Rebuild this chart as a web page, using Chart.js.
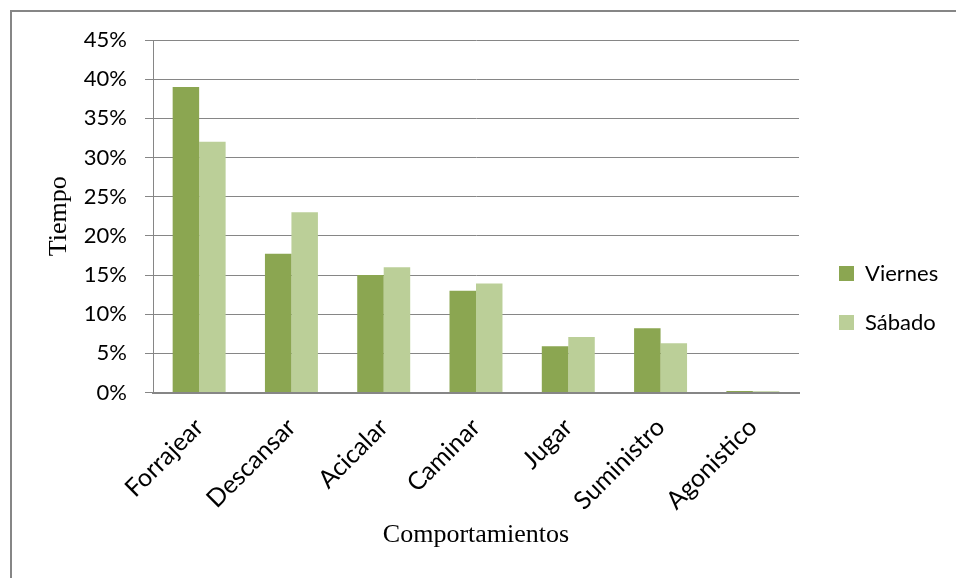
<!DOCTYPE html>
<html><head><meta charset="utf-8">
<script src="https://cdn.jsdelivr.net/npm/chart.js@4.4.1/dist/chart.umd.min.js"></script>
<style>
html,body{margin:0;padding:0;background:#fff;}
#wrap{position:relative;width:956px;height:578px;overflow:hidden;background:#fff;}
#frame{position:absolute;left:10px;top:10px;right:0;bottom:0;border-left:2px solid #868686;border-top:2px solid #868686;pointer-events:none;}
canvas{position:absolute;left:0;top:0;}
</style></head><body>
<div id="wrap"><canvas id="c" width="956" height="578"></canvas><div id="frame"></div></div>
<script>
const categories = ['Forrajear', 'Descansar', 'Acicalar', 'Caminar', 'Jugar', 'Suministro', 'Agonistico'];
const viernes = [39, 17.7, 15, 13, 5.9, 8.2, 0.2];
const sabado = [32, 23, 16, 13.9, 7.1, 6.3, 0.15];
const yTicks = [0, 5, 10, 15, 20, 25, 30, 35, 40, 45];
const seriesNames = ['Viernes', 'Sábado'];

const GRID = '#868686';
const TICKFONT = {family: 'Lato', size: 22};
const XFONT = {family: 'Lato', size: 25};

const legendPos = {
  id: 'legendPos',
  afterInit(chart) {
    const lg = chart.legend;
    const orig = lg.fit.bind(lg);
    lg.fit = function () { orig(); this.width = 157; };
  },
  afterLayout(chart) {
    const lg = chart.legend;
    lg.left = 812; lg.right = lg.left + 144;
    lg.top = 29; lg.bottom = 567;
  }
};

new Chart(document.getElementById('c'), {
  type: 'bar',
  data: {
    labels: categories,
    datasets: [
      {label: seriesNames[0], data: viernes, backgroundColor: '#8BA651', borderWidth: 0},
      {label: seriesNames[1], data: sabado, backgroundColor: '#BBCF98', borderWidth: 0}
    ]
  },
  options: {
    responsive: false,
    animation: false,
    devicePixelRatio: 1,
    layout: {padding: {top: 40, left: 0, right: 0, bottom: 0}},
    datasets: {bar: {categoryPercentage: 0.574, barPercentage: 1.0}},
    plugins: {
      tooltip: {enabled: false},
      legend: {
        position: 'right',
        labels: {
          font: {family: 'Lato', size: 22}, color: '#000', boxWidth: 15, boxHeight: 15, padding: 27
        }
      }
    },
    scales: {
      x: {
        grid: {display: false},
        border: {display: true, color: GRID, width: 2},
        ticks: {font: XFONT, color: '#000', maxRotation: 45, minRotation: 45, padding: 12, autoSkip: false},
        title: {display: true, text: 'Comportamientos', font: {family: 'Liberation Serif', size: 26}, color: '#000', padding: {top: 0, bottom: 27}},
        afterFit(scale) { scale.height = 185.5; }
      },
      y: {
        min: 0, max: 45,
        afterBuildTicks(scale) { scale.ticks = yTicks.map(v => ({value: v})); },
        grid: {color: GRID, lineWidth: 1, tickLength: 8, drawTicks: true},
        border: {display: true, color: GRID, width: 1},
        ticks: {font: TICKFONT, color: '#000', padding: 18, callback: v => v + '%'},
        title: {display: true, text: 'Tiempo', font: {family: 'Liberation Serif', size: 26}, color: '#000', padding: {top: 44, bottom: 0}},
        afterFit(scale) { scale.width = 153; }
      }
    }
  },
  plugins: [legendPos]
});
</script>
</body></html>
